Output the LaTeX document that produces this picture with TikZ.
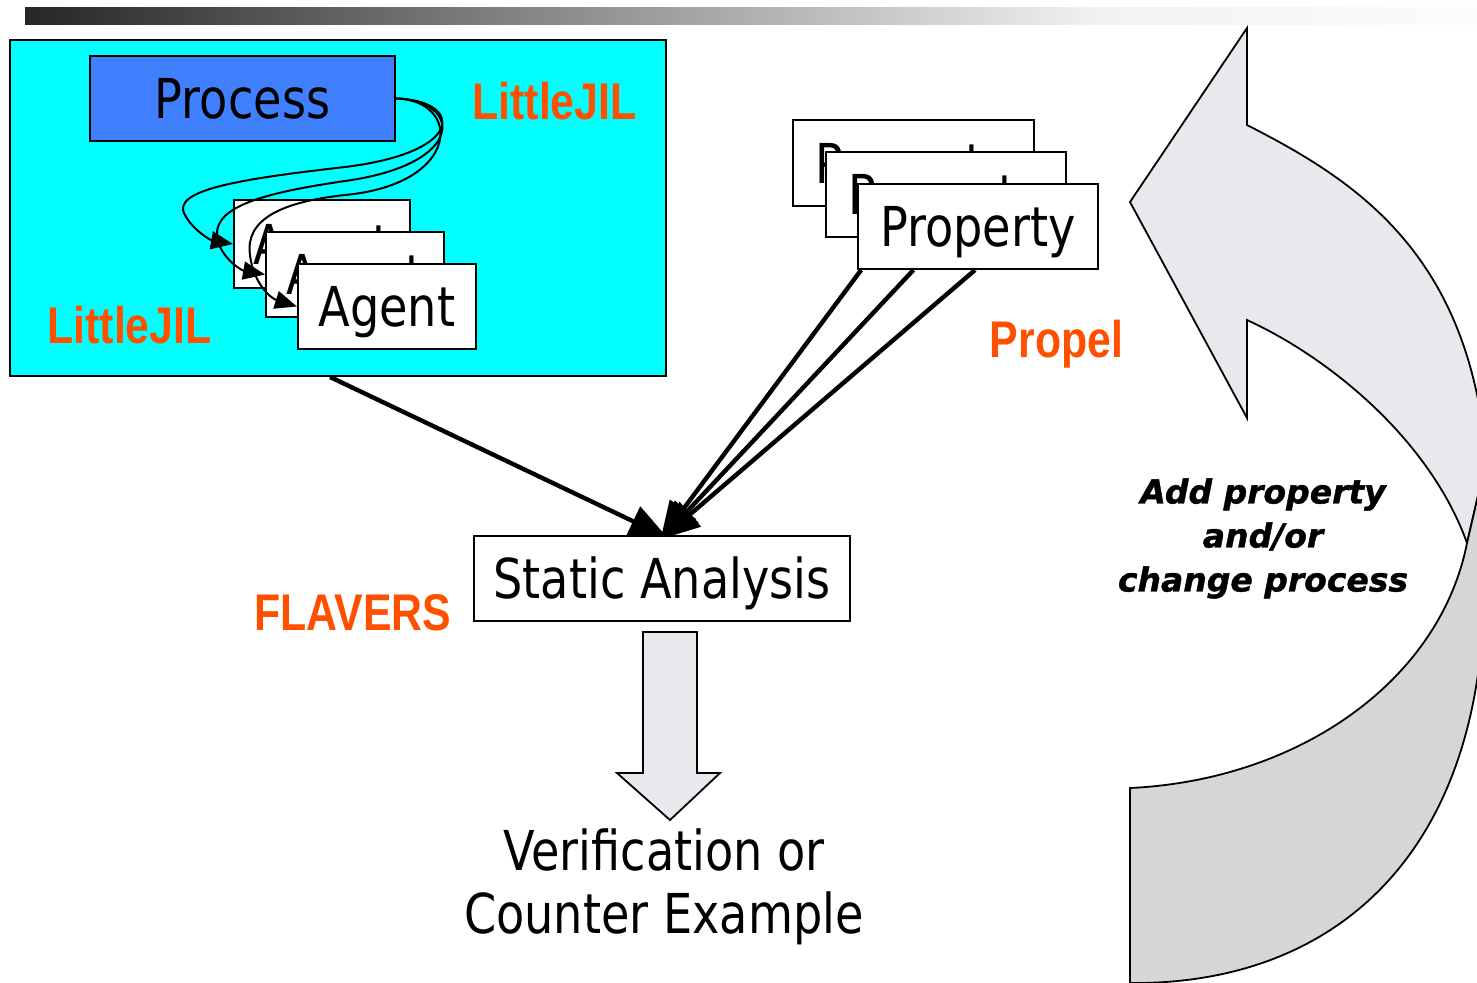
\documentclass[tikz,border=0pt]{standalone}
\usepackage{fontspec}
\usetikzlibrary{arrows.meta,calc}
\newfontfamily\mainfnt{DejaVu Sans}[FakeStretch=0.84]
\newfontfamily\tagfnt{Liberation Sans}[FakeStretch=0.83]
\newfontfamily\notefnt{DejaVu Sans}[FakeBold=1.2]
\definecolor{panelcyan}{HTML}{00FFFF}
\definecolor{procblue}{HTML}{4080FF}
\definecolor{tagorange}{HTML}{FF5000}
\definecolor{marble}{HTML}{E8E9EC}
\definecolor{underside}{HTML}{D6D6D6}
\definecolor{barleft}{HTML}{262626}
\definecolor{barmid}{HTML}{F2F2F2}
\definecolor{barright}{HTML}{FCFCFC}
\pgfdeclarelayer{back}
\pgfsetlayers{back,main}
\begin{document}
\begin{tikzpicture}[
  x=0.5pt, y=-0.5pt,
  box/.style={draw, line width=1pt, fill=white, inner sep=0pt,
    font=\mainfnt\fontsize{27.5}{31.5}\selectfont, text height=20pt, text depth=0pt},
  tag/.style={text=tagorange, inner sep=0pt,
    font=\tagfnt\bfseries\fontsize{25.8}{30}\selectfont, text height=18.5pt, text depth=0pt},
  link/.style={line width=1pt, -{Triangle[length=11pt,width=9pt]}},
  feed/.style={line width=2.2pt, -{Triangle[length=19pt,width=16pt]}, shorten >=-3pt},
  outline/.style={draw=black, line width=0.9pt, line join=miter}
]
\useasboundingbox (0,0) rectangle (1477,982);
\clip (0,0) rectangle (1477,982);

% title bar
\shade[left color=barleft, right color=barmid] (25,7) rectangle (1100,24);
\shade[left color=barmid, right color=barright] (1100,7) rectangle (1477,24);

% LittleJIL panel
\node[draw, line width=1pt, fill=panelcyan, inner sep=0pt,
      minimum width=328pt, minimum height=168pt] (panel) at (338,208) {};
\node[box, fill=procblue, minimum width=152.5pt, minimum height=42.5pt] (proc) at (242.5,98.5) {Process};
\node[box, minimum width=88pt, minimum height=44pt] (a1) at (322,244) {Agent};
\node[box, minimum width=89pt, minimum height=42.5pt] (a2) at (355,274.5) {Agent};
\node[box, minimum width=89pt, minimum height=42.5pt] (a3) at (387,306.5) {Agent};
\node[tag] (jilA) at (554.5,101) {LittleJIL};
\node[tag] (jilB) at (129.5,325) {LittleJIL};

% process-to-agent links
\draw[link] (proc.east) .. controls (462,100) and (468,152) .. (345,167)
  .. controls (240,179) and (170,190) .. (185,215)
  .. controls (193,230) and (210,240) .. (a1.west);
\draw[link] (proc.east) .. controls (462,100) and (468,164) .. (345,181)
  .. controls (270,192) and (215,205) .. (217,235)
  .. controls (218,255) and (240,270) .. (a2.west);
\draw[link] (proc.east) .. controls (462,100) and (462,184) .. (345,195)
  .. controls (280,202) and (245,220) .. (250,255)
  .. controls (253,282) and (270,298) .. (a3.west);

% property stack
\node[box, minimum width=120.5pt, minimum height=43pt] (p1) at (913.5,163) {Property};
\node[box, minimum width=120pt, minimum height=42.5pt] (p2) at (946,194.5) {Property};
\node[box, minimum width=120pt, minimum height=42.5pt] (p3) at (978,226.5) {Property};
\node[tag] (propel) at (1056.5,338.5) {Propel};

% analysis
\node[box, minimum width=188pt, minimum height=42.5pt] (sa) at (662,578.5) {Static Analysis};
\node[tag] (flavers) at (353,611.5) {FLAVERS};

\begin{pgfonlayer}{back}
  \draw[feed] ($(panel.south west)!0.488!(panel.south east)$) -- (sa.north);
  \draw[feed] ($(p3.south west)!0.017!(p3.south east)$) -- ([xshift=1pt]sa.north);
  \draw[feed] ($(p3.south west)!0.233!(p3.south east)$) -- ([xshift=1.5pt]sa.north);
  \draw[feed] ($(p3.south west)!0.4875!(p3.south east)$) -- ([xshift=2pt]sa.north);
\end{pgfonlayer}

% result
\path[outline, fill=marble] (643,632) -- (697,632) -- (697,773) -- (720,773)
  -- (670,820) -- (617,773) -- (643,773) -- cycle;
\node[align=center, inner sep=0pt, font=\mainfnt\fontsize{27.5}{31.5}\selectfont]
  (result) at (664,887) {Verification or\\Counter Example};

% feedback loop arrow
\path[outline, fill=marble] (1247,28) -- (1130,202) -- (1247,418) -- (1247,320)
  .. controls (1330,358) and (1430,440) .. (1467,543)
  -- (1480,487) -- (1490,487) -- (1490,430) -- (1480,410)
  .. controls (1450,240) and (1345,175) .. (1247,125) -- cycle;
\path[outline, fill=underside] (1467,543) -- (1480,487) -- (1495,487) -- (1495,600)
  -- (1484,600) .. controls (1478,860) and (1330,985) .. (1130,983)
  -- (1130,788) .. controls (1300,780) and (1440,680) .. (1467,543) -- cycle;
\node[align=center, inner sep=0pt, font=\notefnt\bfseries\itshape\fontsize{16.5}{22}\selectfont]
  (note) at (1263,538.5) {Add property\\and/or\\change process};
\end{tikzpicture}
\end{document}
